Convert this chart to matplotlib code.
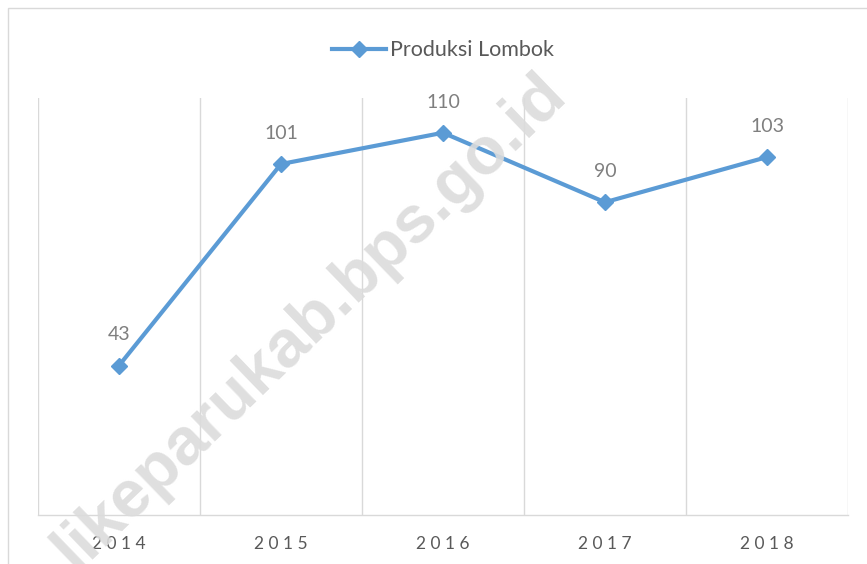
import matplotlib.pyplot as plt
from matplotlib.patches import Rectangle

years = ['2014', '2015', '2016', '2017', '2018']
produksi = [43, 101, 110, 90, 103]
series_name = 'Produksi Lombok'
watermark = 'likeparukab.bps.go.id'

blue = '#5B9BD5'
grid_col = '#D9D9D9'

fig = plt.figure(figsize=(8.67, 5.64), dpi=100)
ax = fig.add_axes([38/867, 49/564, 810/867, 417/564])

x = list(range(len(years)))
ax.plot(x, produksi, color=blue, lw=3, marker='D', markersize=8,
        label=series_name, zorder=3)

for xi, v in zip(x, produksi):
    ax.annotate(str(v), (xi, v), xytext=(0, 16), textcoords='offset points',
                ha='center', va='bottom', fontsize=14, color='#7F7F7F',
                family='Lato')

ax.set_xlim(-0.5, len(years) - 0.5)
ax.set_ylim(0, 120)
ax.set_yticks([])
ax.set_xticks(x)
ax.set_xticklabels([' '.join(y) for y in years], fontsize=12.5,
                   color='#595959', family='Lato')
ax.tick_params(axis='x', length=0, pad=15)
for b in [i - 0.5 for i in range(len(years) + 1)]:
    ax.axvline(b, color=grid_col, lw=1, zorder=0)
for s in ['top', 'right', 'left']:
    ax.spines[s].set_visible(False)
ax.spines['bottom'].set_color(grid_col)
ax.spines['bottom'].set_linewidth(1)

leg = ax.legend(loc='upper center', bbox_to_anchor=(0.5, 1.185), frameon=False,
                prop={'family': 'Lato', 'size': 15.5}, handlelength=2.5,
                handletextpad=0.2)
for t in leg.get_texts():
    t.set_color('#595959')

# watermark
fig.text(310/867, 1 - 322/564, watermark, rotation=44, ha='center', va='center',
         fontsize=48, fontweight='bold', color='#DCDCDC', family='Liberation Sans',
         zorder=1, alpha=0.9)

fig.patches.append(Rectangle((8/867, -0.02), 1.0, 1 - 8/564 + 0.02,
                             transform=fig.transFigure, fill=False,
                             edgecolor='#D9D9D9', lw=1))

fig.savefig('out.png', dpi=100)
